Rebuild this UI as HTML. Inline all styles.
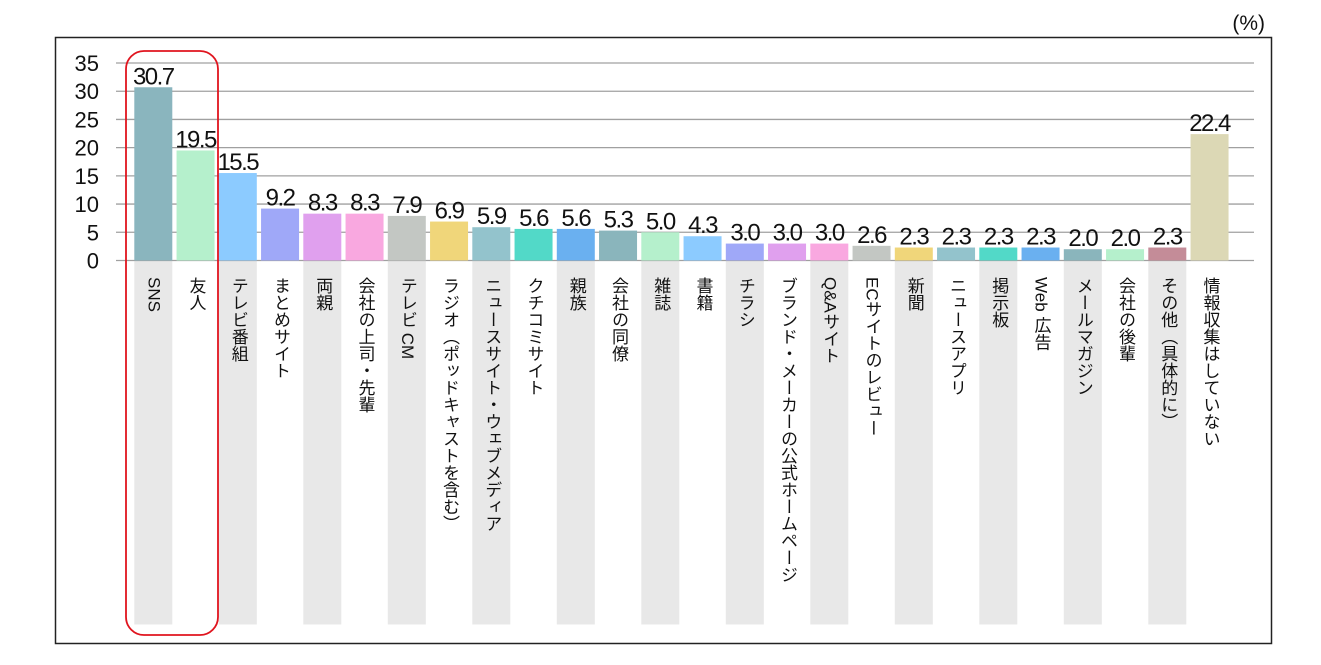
<!DOCTYPE html>
<html><head><meta charset="utf-8">
<style>
body{margin:0;background:#fff;width:1321px;height:665px;overflow:hidden;font-family:"Liberation Sans","Noto Sans CJK JP",sans-serif;}
svg{position:absolute;left:0;top:0}
.lab{position:absolute;writing-mode:vertical-rl;text-orientation:mixed;font-size:17px;line-height:20px;color:#111;font-family:"Liberation Sans","Noto Sans CJK JP",sans-serif;}
</style></head>
<body>
<svg id="chart" width="1321" height="665"></svg>
<div id="labs"></div>
<script>
const categories=["SNS","友人","テレビ番組","まとめサイト","両親","会社の上司・先輩","テレビ CM","ラジオ（ポッドキャストを含む）","ニュースサイト・ウェブメディア","クチコミサイト","親族","会社の同僚","雑誌","書籍","チラシ","ブランド・メーカーの公式ホームページ","Q&Aサイト","ECサイトのレビュー","新聞","ニュースアプリ","掲示板","Web 広告","メールマガジン","会社の後輩","その他（具体的に）","情報収集はしていない"];
const values=[30.7,19.5,15.5,9.2,8.3,8.3,7.9,6.9,5.9,5.6,5.6,5.3,5.0,4.3,3.0,3.0,3.0,2.6,2.3,2.3,2.3,2.3,2.0,2.0,2.3,22.4];
const yTicks=[0,5,10,15,20,25,30,35];
const colors=["#8ab5be","#b5f0cc","#8ccbff","#9fa8f8","#e0a0ee","#f9a8e0","#c3c7c3","#f0d67a","#93c3cc","#52d9c8","#6ab0f0","#8ab5bc","#b5f0cc","#8ccbff","#9fa8f8","#e0a0ee","#f9a8e0","#c3c7c3","#f0d67a","#93c3cc","#52d9c8","#6ab0f0","#8ab5bc","#b5f0cc","#c48c98","#dcd8b5"];
const NS="http://www.w3.org/2000/svg";
const svg=document.getElementById('chart');
const y0=260.5,pxPer=(260.5-63)/35;
const yS=v=>y0-v*pxPer;
const x0=134.3,pitch=42.25,bw=38;
const xS=i=>x0+i*pitch;
function mk(t,a){const e=document.createElementNS(NS,t);for(const k in a)e.setAttribute(k,a[k]);svg.appendChild(e);return e;}
let r=mk('rect',{x:55.5,y:37.5,width:1216,height:606,fill:'none',stroke:'#222','stroke-width':1.5});


let u=mk('text',{x:1265,y:30,'font-size':21,'text-anchor':'end',fill:'#111'});u.textContent='(%)';


categories.forEach((c,i)=>{if(i%2===0){const g=mk('rect',{x:xS(i),y:y0,width:bw,height:364,fill:'#e8e8e8'});

}});
yTicks.forEach(t=>{const l=mk('line',{x1:116,x2:1254,y1:yS(t),y2:yS(t),stroke:'#a0a0a0','stroke-width':1.3});


const tx=mk('text',{x:99,y:yS(t)+8,'font-size':22,'text-anchor':'end',fill:'#111'});tx.textContent=t;

});
const labs=document.getElementById('labs');
values.forEach((v,i)=>{const b=mk('rect',{x:xS(i),y:yS(v),width:bw,height:v*pxPer,fill:colors[i]});


const t=mk('text',{x:xS(i)+bw/2,y:yS(v)-3,'font-size':24,'text-anchor':'middle',fill:'#111','letter-spacing':'-1.5'});t.textContent=v.toFixed(1);


const d=document.createElement('div');d.className='lab';d.textContent=categories[i];
d.style.left=(xS(i)+bw/2-10)+'px';d.style.top='277px';


labs.appendChild(d);});
const h=mk('rect',{x:126,y:51,width:92,height:584,rx:18,fill:'none',stroke:'#e0141e','stroke-width':1.8});


</script>
</body></html>
